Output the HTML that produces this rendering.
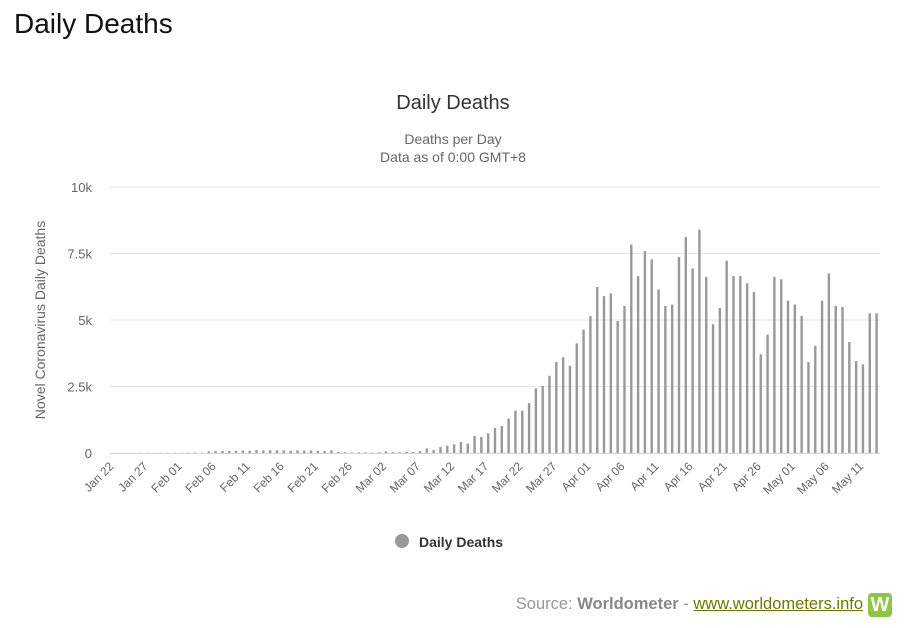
<!DOCTYPE html>
<html><head><meta charset="utf-8"><style>
body{margin:0;background:#fff;font-family:"Liberation Sans",sans-serif;}
#wrap{position:relative;width:911px;height:628px;overflow:hidden;}
</style></head><body>
<div id="wrap">
<div style="position:absolute;left:14px;top:8px;font-size:28px;color:#111;">Daily Deaths</div>
<svg id="chart" width="911" height="628" style="position:absolute;left:0;top:0;font-family:'Liberation Sans',sans-serif;"></svg>
<div style="position:absolute;right:48px;top:595px;font-size:16.5px;color:#999;">Source: <b style="color:#888">Worldometer</b> - <a style="color:#6a7a00;text-decoration:underline;">www.worldometers.info</a></div>
<div style="position:absolute;left:868px;top:593px;width:24px;height:24px;background:#8dc63f;border-radius:4px;color:#fff;font-weight:bold;font-size:20px;text-align:center;line-height:24px;">W</div>
</div>
<script>
const categories=[];
(function(){const d=new Date(Date.UTC(2020,0,22));const m=["Jan","Feb","Mar","Apr","May"];for(let i=0;i<113;i++){const x=new Date(d.getTime()+i*864e5);categories.push(m[x.getUTCMonth()]+" "+String(x.getUTCDate()).padStart(2,"0"));}})();
const deaths=[5,3,5,4,6,6,6,8,9,10,10,12,14,14,60,70,75,80,85,90,85,110,100,105,100,95,85,100,90,95,85,80,100,40,30,20,25,25,20,25,60,35,30,45,40,70,
175,110,225,275,325,410,360,640,600,740,940,1015,1300,1590,1590,1880,2430,2520,2900,3420,3600,3280,4120,4640,5150,6240,5900,6000,4960,
5530,7840,6650,7590,7280,6150,5530,5580,7370,8120,6940,8400,6620,4840,5450,7230,6650,6650,6380,6050,3710,4450,6620,6530,5730,5580,5150,3420,4030,5730,6750,5530,5490,4170,3460,3330,5250,5250];
const yTicks=[0,2500,5000,7500,10000];
const yTickLabels=["0","2.5k","5k","7.5k","10k"];
const NS="http://www.w3.org/2000/svg";
const svg=document.getElementById("chart");
const L=110,R=880,T=187,B=453;
const step=(R-L)/categories.length;
const xs=i=>L+(i+0.5)*step;
const ys=v=>B-(v/10000)*(B-T);
function mk(t,a){const e=document.createElementNS(NS,t);for(const k in a)e.setAttribute(k,a[k]);svg.appendChild(e);return e;}
let e;
e=mk("text",{x:453,y:109,"text-anchor":"middle","font-size":20,fill:"#333"});e.textContent="Daily Deaths";

e=mk("text",{x:453,y:144,"text-anchor":"middle","font-size":14,fill:"#666"});e.textContent="Deaths per Day";

e=mk("text",{x:453,y:162,"text-anchor":"middle","font-size":14,fill:"#666"});e.textContent="Data as of 0:00 GMT+8";

e=mk("text",{x:45,y:320,"text-anchor":"middle","font-size":14,fill:"#666",transform:"rotate(-90 45 320)"});e.textContent="Novel Coronavirus Daily Deaths";

yTicks.forEach((v,i)=>{
 if(v>0){e=mk("line",{x1:L,x2:R,y1:ys(v),y2:ys(v),stroke:"#e6e6e6","stroke-width":1});
 }
 e=mk("text",{x:92,y:ys(v)+5,"text-anchor":"end","font-size":13,fill:"#666"});e.textContent=yTickLabels[i];
 
});
deaths.forEach((v,i)=>{
 e=mk("rect",{x:xs(i)-1.2,y:ys(v),width:2.4,height:B-ys(v),fill:"#999"});
 
});
e=mk("line",{x1:L,x2:R,y1:B+0.5,y2:B+0.5,stroke:"#ccd6eb","stroke-width":1});

categories.forEach((c,i)=>{
 if(i%5)return;
 const x=xs(i)+1,y=B+14;
 e=mk("text",{x:x,y:y,"text-anchor":"end","font-size":12,fill:"#666",transform:`rotate(-45 ${x} ${y})`});e.textContent=c;
 
});
e=mk("circle",{cx:402,cy:541,r:7,fill:"#999"});

e=mk("text",{x:419,y:547,"font-size":14,"font-weight":"bold",fill:"#333"});e.textContent="Daily Deaths";

</script>
</body></html>
